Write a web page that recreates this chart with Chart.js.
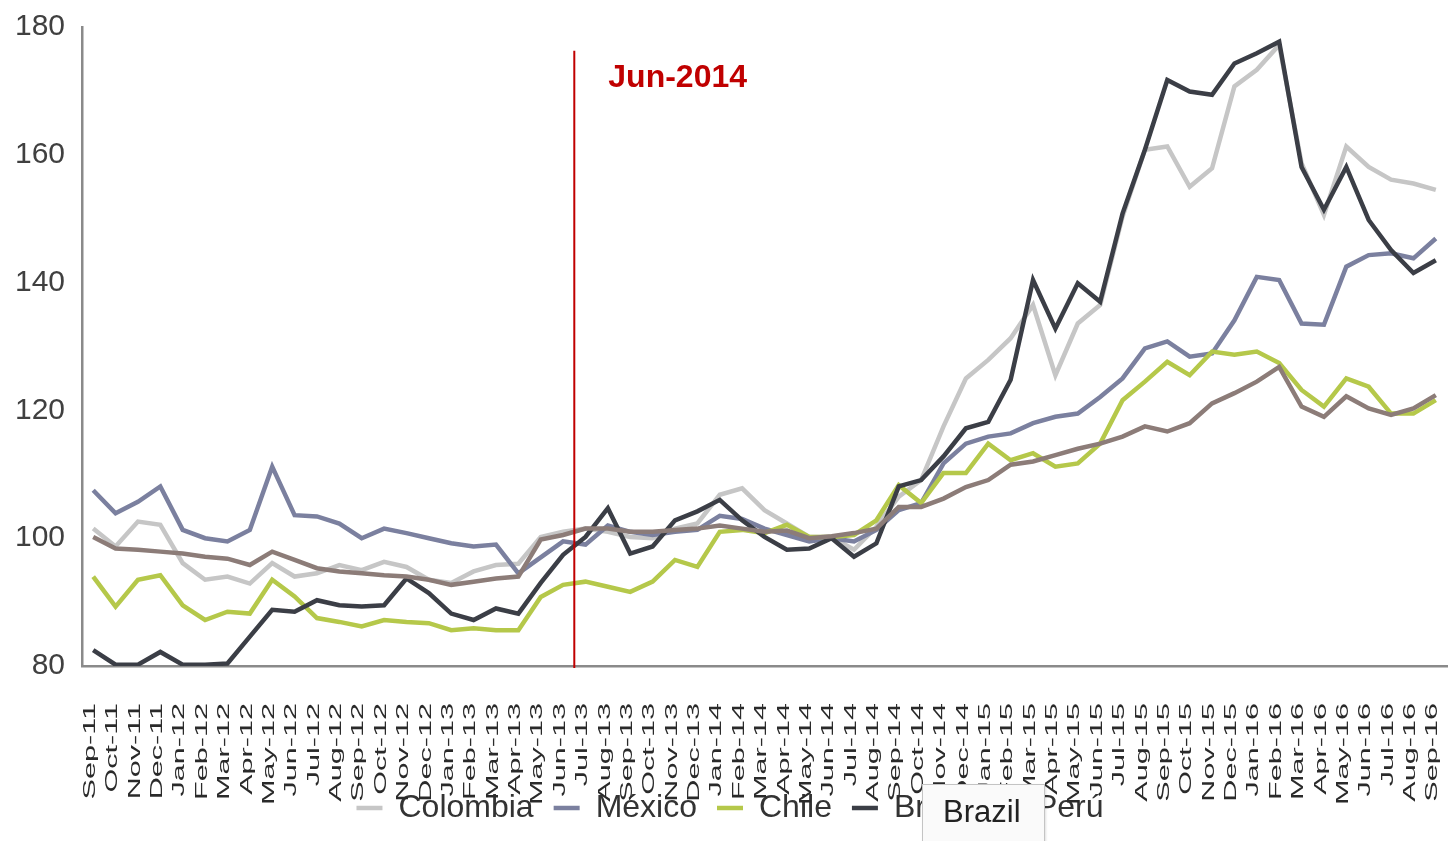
<!DOCTYPE html>
<html>
<head>
<meta charset="utf-8">
<title>Exchange rate index, Latin America</title>
<script src="https://cdn.jsdelivr.net/npm/chart.js"></script>
<style>
  body { margin: 0; background: #fff; }
  #wrap { position: relative; width: 1452px; height: 841px; }
  #tip {
    position: absolute; left: 922px; top: 784px; width: 123px; height: 62px;
    box-sizing: border-box; padding: 9px 0 0 20px;
    background: #fafafa; border: 1px solid #c4c4c4;
    box-shadow: 1px 1px 2px rgba(0, 0, 0, 0.12);
    font: 31px "Liberation Sans", Arial, sans-serif; color: #222;
  }
</style>
</head>
<body>
<div id="wrap">
  <canvas id="fxChart" width="1452" height="841"></canvas>
  <div id="tip">Brazil</div>
</div>
<script>
// monthly index, Sep-11 .. Sep-16
const months = [
  'Sep-11', 'Oct-11', 'Nov-11', 'Dec-11', 'Jan-12', 'Feb-12', 'Mar-12', 'Apr-12', 'May-12', 'Jun-12',
  'Jul-12', 'Aug-12', 'Sep-12', 'Oct-12', 'Nov-12', 'Dec-12', 'Jan-13', 'Feb-13', 'Mar-13', 'Apr-13',
  'May-13', 'Jun-13', 'Jul-13', 'Aug-13', 'Sep-13', 'Oct-13', 'Nov-13', 'Dec-13', 'Jan-14', 'Feb-14',
  'Mar-14', 'Apr-14', 'May-14', 'Jun-14', 'Jul-14', 'Aug-14', 'Sep-14', 'Oct-14', 'Nov-14', 'Dec-14',
  'Jan-15', 'Feb-15', 'Mar-15', 'Apr-15', 'May-15', 'Jun-15', 'Jul-15', 'Aug-15', 'Sep-15', 'Oct-15',
  'Nov-15', 'Dec-15', 'Jan-16', 'Feb-16', 'Mar-16', 'Apr-16', 'May-16', 'Jun-16', 'Jul-16', 'Aug-16',
  'Sep-16'
];

const colombia = [101.5, 98.7, 102.6, 102.1, 96.1, 93.5, 94, 92.9, 96.1, 94,
  94.5, 95.8, 95, 96.3, 95.5, 93.5, 93, 94.8, 95.8, 96,
  100.2, 101, 101.5, 101, 100.2, 100, 101.5, 102.3, 106.8, 107.8,
  104.4, 102.3, 100.2, 100.2, 98.2, 101.8, 106.5, 109.1, 117.5, 125,
  127.9, 131.3, 136.5, 125.5, 133.6, 136.5, 150.3, 160.8, 161.3, 155,
  157.9, 170.7, 173.3, 177.2, 158.7, 150.6, 161.3, 158.1, 156.1, 155.5, 154.5];

const mexico = [107.5, 103.9, 105.7, 108.1, 101.3, 100, 99.5, 101.3, 111.2, 103.6,
  103.4, 102.3, 100, 101.5, 100.8, 100, 99.2, 98.7, 99, 94.5,
  97, 99.5, 99, 102, 101, 100.5, 101, 101.3, 103.5, 103,
  101.5, 100.5, 99.5, 100, 99.5, 101.3, 104.4, 105.5, 111.7, 114.8,
  115.9, 116.4, 118, 119, 119.5, 122.1, 125, 129.7, 130.8, 128.4,
  128.9, 134.1, 140.9, 140.4, 133.6, 133.4, 142.5, 144.3, 144.6, 143.8, 146.9];

const chile = [94, 89.3, 93.5, 94.2, 89.5, 87.2, 88.5, 88.2, 93.5, 90.9,
  87.5, 86.9, 86.2, 87.2, 86.9, 86.7, 85.6, 85.9, 85.6, 85.6,
  90.8, 92.7, 93.2, 92.4, 91.6, 93.2, 96.6, 95.5, 101, 101.3,
  100.8, 102.1, 100.2, 100.2, 100.5, 102.8, 108.3, 105.5, 110.2, 110.2,
  114.8, 112.2, 113.3, 111.2, 111.7, 114.8, 121.6, 124.5, 127.6, 125.5,
  129.2, 128.7, 129.2, 127.4, 123.2, 120.6, 125, 123.7, 119.5, 119.5, 121.6];

const brazil = [82.5, 80.2, 80.2, 82.2, 80.2, 80.2, 80.4, 84.6, 88.8, 88.5,
  90.3, 89.5, 89.3, 89.5, 93.7, 91.4, 88.2, 87.2, 89, 88.2,
  93, 97.4, 100.2, 104.7, 97.6, 98.7, 102.8, 104.2, 106, 102.8,
  100.2, 98.2, 98.4, 100, 97.1, 99.2, 108.1, 109.1, 112.8, 117.2,
  118.2, 124.8, 140.4, 132.8, 139.9, 137, 150.8, 160.8, 171.7, 169.9,
  169.4, 174.3, 175.9, 177.7, 158.1, 151.4, 158.1, 149.8, 145.1, 141.5, 143.5];

const peru = [100.2, 98.4, 98.2, 97.9, 97.6, 97.1, 96.8, 95.8, 97.9, 96.6,
  95.3, 94.8, 94.5, 94.2, 94, 93.5, 92.7, 93.2, 93.7, 94,
  99.8, 100.5, 101.5, 101.5, 101, 101, 101.3, 101.5, 102, 101.5,
  101, 101.2, 100, 100.3, 100.8, 101.5, 104.9, 104.9, 106.2, 108,
  109.1, 111.5, 112, 113, 114, 114.8, 115.9, 117.5, 116.7, 118,
  121.1, 122.7, 124.5, 126.8, 120.6, 119, 122.2, 120.3, 119.3, 120.3, 122.4];

// reference marker (sits between Jun-13 and Jul-13 in the source)
const markerIndex = 21.5;
const markerText = 'Jun-2014';

const FONT = '"Liberation Sans", Arial, sans-serif';

function series(label, data, color, order) {
  return {
    label, data, order,
    borderColor: color,
    backgroundColor: color,
    borderWidth: 4.5,
    pointRadius: 0,
    pointHoverRadius: 0,
    pointStyle: 'line',
    tension: 0,
    fill: false
  };
}

// month labels + the red marker line
const overlay = {
  id: 'overlay',
  afterDraw(chart) {
    const { ctx, scales: { x, y } } = chart;
    ctx.save();
    ctx.fillStyle = '#2a2a2a';
    ctx.font = '17px ' + FONT;
    ctx.textAlign = 'right';
    ctx.textBaseline = 'middle';
    months.forEach((m, i) => {
      ctx.save();
      ctx.translate(x.getPixelForValue(i) - 3, x.top + 37);
      ctx.rotate(-Math.PI / 2);
      ctx.scale(1.8, 1);
      ctx.fillText(m, 0, 0);
      ctx.restore();
    });

    const xm = x.getPixelForValue(markerIndex);
    ctx.strokeStyle = '#c00000';
    ctx.lineWidth = 2;
    ctx.beginPath();
    ctx.moveTo(xm, y.getPixelForValue(176.3));
    ctx.lineTo(xm, y.bottom + 2);
    ctx.stroke();

    ctx.fillStyle = '#c00000';
    ctx.font = 'bold 32px ' + FONT;
    ctx.textAlign = 'left';
    ctx.fillText(markerText, xm + 34, y.getPixelForValue(172));
    ctx.restore();
  }
};

new Chart(document.getElementById('fxChart'), {
  type: 'line',
  data: {
    labels: months,
    datasets: [
      series('Colombia', colombia, '#c6c6c6', 5),
      series('México', mexico, '#7b809f', 4),
      series('Chile', chile, '#b5c84a', 3),
      series('Brazil', brazil, '#3b3e46', 2),
      series('Perú', peru, '#8c7c78', 1)
    ]
  },
  options: {
    responsive: false,
    animation: false,
    devicePixelRatio: 1,
    layout: { padding: { top: 27, right: 5, left: 13, bottom: 7 } },
    plugins: {
      tooltip: { enabled: false },
      legend: {
        position: 'bottom',
        labels: {
          usePointStyle: true,
          pointStyleWidth: 26,
          padding: 20,
          color: '#333',
          font: { family: FONT, size: 32 },
          sort: (a, b) => a.datasetIndex - b.datasetIndex
        }
      }
    },
    scales: {
      x: {
        offset: true,
        grid: { display: true, color: 'transparent', drawTicks: false },
        border: { display: true, color: '#8a8a8a', width: 2.5 },
        ticks: { display: false },
        afterFit: s => { s.height = 106; }
      },
      y: {
        min: 80,
        max: 180,
        grid: { display: true, color: 'transparent', drawTicks: false },
        border: { display: true, color: '#8a8a8a', width: 2.5 },
        ticks: {
          stepSize: 20,
          padding: 17,
          color: '#404040',
          font: { family: FONT, size: 30, lineHeight: 0.6 }
        },
        afterFit: s => { s.width = 69; }
      }
    }
  },
  plugins: [overlay]
});
</script>
</body>
</html>
